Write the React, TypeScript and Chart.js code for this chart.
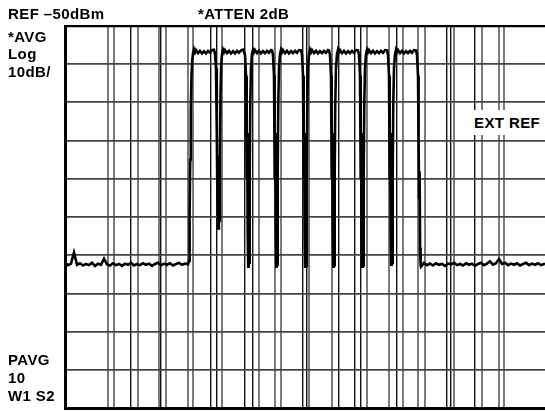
import React, { useEffect, useRef } from "react";
import { Chart, registerables } from "chart.js";

Chart.register(...registerables);

// ---- data (x in display trace units 0..480, y in dBm) ----
const X_MIN = 0;
const X_MAX = 480;
const REF_DBM = -50;
const BOTTOM_DBM = -150;
const DB_PER_DIV = 10;

const FLOOR_LEFT_START = 0;
const FLOOR_STEP = 3;
const FLOOR_LEFT_DB = [
  -112.0, -112.6, -112.2, -109.3, -112.5, -112.1, -112.7, -112.3, -112.6, -112.0,
  -112.8, -112.2, -112.5, -110.9, -112.4, -112.7, -112.1, -112.6, -112.3, -112.8,
  -112.2, -112.5, -112.0, -112.7, -112.3, -112.6, -112.1, -112.5, -112.2, -112.8,
  -112.3, -112.0, -112.6, -112.2, -112.5, -112.1, -112.7, -112.3, -112.0, -112.5,
  -112.2, -112.4,
];

// [x, dBm] pairs for the eight-carrier burst region
const BURST_POINTS: [number, number][] = [
  [124, -111.5], [124.6, -100], [125.2, -85], [125.8, -72], [126.5, -63], [127.2, -59], [128, -57.2],
  [129, -56.1], [130, -56.9], [131, -56.3], [133, -57.1], [135, -56.5], [137, -57.2], [139, -56.6], [141, -57.2], [143, -56.5], [145, -57.0], [147, -56.3], [149, -56.2], [150, -57.3],
  [151, -61], [151.8, -78], [152.4, -96], [152.9, -84], [153.4, -103], [153.9, -92], [154.4, -101], [154.9, -82], [155.5, -68], [156.2, -60], [157, -57.4],
  [158, -56.2], [159, -56.9], [160, -56.3], [162, -57.1], [164, -56.5], [166, -57.2], [168, -56.6], [170, -57.2], [172, -56.5], [174, -57.0], [176, -56.4], [178, -56.2], [179, -56.7], [180, -57.6],
  [181, -63], [181.7, -90], [182.2, -78], [182.7, -104], [183.2, -113], [183.7, -97], [184.2, -112], [184.7, -88], [185.3, -70], [186, -61], [187, -57.3],
  [188, -56.2], [189, -56.9], [190, -56.3], [192, -57.1], [194, -56.5], [196, -57.2], [198, -56.6], [200, -57.1], [202, -56.5], [204, -57.0], [206, -56.3], [207, -56.4], [208, -57.6],
  [209, -63], [209.7, -90], [210.2, -78], [210.7, -104], [211.2, -113], [211.7, -97], [212.2, -112.5], [212.7, -88], [213.3, -70], [214, -61], [215, -57.3],
  [216, -56.2], [217, -56.9], [218, -56.3], [220, -57.1], [222, -56.5], [224, -57.2], [226, -56.6], [228, -57.1], [230, -56.5], [232, -57.0], [234, -56.3], [236, -56.4], [237, -57.5],
  [238, -63], [238.7, -90], [239.2, -78], [239.7, -104], [240.2, -113], [240.7, -97], [241.2, -112.8], [241.7, -88], [242.3, -70], [243, -61], [244, -57.3],
  [245, -56.2], [246, -56.9], [247, -56.3], [249, -57.1], [251, -56.5], [253, -57.2], [255, -56.6], [257, -57.1], [259, -56.5], [261, -57.0], [263, -56.3], [264, -56.4], [265, -57.6],
  [266, -63], [266.7, -90], [267.2, -78], [267.7, -104], [268.2, -113], [268.7, -97], [269.2, -112.6], [269.7, -88], [270.3, -70], [271, -61], [272, -57.3],
  [273, -56.2], [274, -56.9], [275, -56.3], [277, -57.1], [279, -56.5], [281, -57.2], [283, -56.6], [285, -57.1], [287, -56.5], [289, -57.0], [291, -56.3], [293, -56.4], [294, -57.5],
  [295, -63], [295.7, -90], [296.2, -78], [296.7, -104], [297.2, -113], [297.7, -97], [298.2, -112.7], [298.7, -88], [299.3, -70], [300, -61], [301, -57.3],
  [302, -56.2], [303, -56.9], [304, -56.3], [306, -57.1], [308, -56.5], [310, -57.2], [312, -56.6], [314, -57.1], [316, -56.5], [318, -57.0], [320, -56.3], [322, -56.4], [323, -57.5],
  [324, -63], [324.7, -90], [325.2, -78], [325.7, -104], [326.2, -112.5], [326.7, -97], [327.2, -112], [327.7, -88], [328.3, -70], [329, -61], [330, -57.3],
  [331, -56.2], [332, -56.9], [333, -56.3], [335, -57.1], [337, -56.5], [339, -57.2], [341, -56.6], [343, -57.1], [345, -56.5], [347, -57.0], [349, -56.3], [351, -56.4], [352, -57.6],
  [353, -63], [353.6, -80], [354.1, -95], [354.6, -88], [355.1, -108], [355.6, -112.5],
];

const FLOOR_RIGHT_START = 356;
const FLOOR_RIGHT_DB = [
  -113.0, -112.0, -112.6, -112.2, -112.7, -112.1, -112.5, -112.3, -112.8, -112.2,
  -112.4, -112.0, -112.6, -112.3, -112.7, -112.1, -112.5, -112.2, -112.8, -112.3,
  -112.0, -112.6, -112.2, -111.6, -112.5, -112.1, -111.0, -112.3, -112.0, -112.6,
  -112.2, -112.5, -112.1, -112.7, -112.3, -112.0, -112.6, -112.2, -112.5, -112.1,
  -112.6, -112.3, -112.4,
];

// vertical graticule/marker lines (x units) and which of them are the dark ones
const GRID_X = [
  42.7, 48.7, 65.3, 72.7, 93.7, 96, 100.7, 122.7, 127.7, 145.7, 151.7, 157.3,
  179.7, 187.3, 193.7, 209.5, 215.7, 237.3, 241.3, 244.3, 267, 273.3, 289.3,
  295.3, 302.3, 324.3, 331.7, 337.7, 353.3, 360, 381.7, 385.3, 388.7, 409.7,
  416.7, 434, 438.7,
];
const GRID_X_DARK = [65.3, 96, 145.7, 151.7, 179.7, 187.3, 237.3, 241.3, 273.3, 289.3, 295.3, 331.7, 381.7, 385.3, 409.7];

const HEADER_LEFT = "REF \u201350dBm";
const HEADER_MID = "*ATTEN 2dB";
const SIDE_TOP = ["*AVG", "Log", "10dB/"];
const SIDE_BOTTOM = ["PAVG", "10", "W1 S2"];
const EXT_LABEL = "EXT REF";

function buildTrace() {
  const pts: { x: number; y: number }[] = [];
  FLOOR_LEFT_DB.forEach((v, i) => pts.push({ x: FLOOR_LEFT_START + i * FLOOR_STEP, y: v }));
  BURST_POINTS.forEach(([x, y]) => pts.push({ x, y }));
  FLOOR_RIGHT_DB.forEach((v, i) =>
    pts.push({ x: Math.min(X_MAX, FLOOR_RIGHT_START + i * FLOOR_STEP), y: v })
  );
  return pts;
}

const font = "'Liberation Sans', Arial, Helvetica, sans-serif";
const textStyle: React.CSSProperties = {
  position: "absolute",
  fontFamily: font,
  fontWeight: 700,
  fontSize: 15,
  letterSpacing: 0.4,
  color: "#000",
  whiteSpace: "pre",
  margin: 0,
};

export default function App() {
  const ref = useRef<HTMLCanvasElement | null>(null);

  useEffect(() => {
    if (!ref.current) return;
    const chart = new Chart(ref.current, {
      type: "line",
      data: {
        datasets: [
          {
            data: buildTrace(),
            borderColor: "#000",
            borderWidth: 2.6,
            pointRadius: 0,
            tension: 0,
            fill: false,
          },
        ],
      },
      options: {
        animation: false,
        responsive: false,
        devicePixelRatio: 1,
        parsing: false,
        layout: { padding: { left: 65, top: 26, right: 0, bottom: 4 } },
        plugins: { legend: { display: false }, tooltip: { enabled: false } },
        scales: {
          x: {
            type: "linear",
            min: X_MIN,
            max: X_MAX,
            afterBuildTicks: (scale: any) => {
              scale.ticks = GRID_X.map((v) => ({ value: v }));
            },
            afterFit: (scale: any) => {
              scale.height = 0;
            },
            ticks: { display: false },
            grid: {
              drawTicks: false,
              color: (c: any) => (GRID_X_DARK.includes(c.tick?.value) ? "#111" : "#7a7a7a"),
              lineWidth: (c: any) => (GRID_X_DARK.includes(c.tick?.value) ? 1.4 : 2),
            },
            border: { display: true, color: "#000", width: 3 },
          },
          y: {
            type: "linear",
            min: BOTTOM_DBM,
            max: REF_DBM,
            afterFit: (scale: any) => {
              scale.width = 0;
            },
            ticks: { display: false, stepSize: DB_PER_DIV },
            grid: {
              drawTicks: false,
              color: (c: any) => (c.tick?.value === REF_DBM ? "#000" : "#444"),
              lineWidth: (c: any) => (c.tick?.value === REF_DBM ? 2.2 : 1.8),
            },
            border: { display: true, color: "#000", width: 3 },
          },
        },
      },
    });
    return () => chart.destroy();
  }, []);

  return (
    <div style={{ position: "fixed", left: 0, top: 0, width: 545, height: 412, background: "#fff", overflow: "hidden" }}>
      <canvas ref={ref} width={545} height={412} style={{ position: "absolute", left: 0, top: 0, width: 545, height: 412 }} />
      <div style={{ ...textStyle, left: 8, top: 5.3, lineHeight: "17px" }}>{HEADER_LEFT}</div>
      <div style={{ ...textStyle, left: 198, top: 5.3, lineHeight: "17px" }}>{HEADER_MID}</div>
      <div style={{ ...textStyle, left: 8, top: 27.8, lineHeight: "17.5px" }}>
        {SIDE_TOP.map((s) => (
          <div key={s}>{s}</div>
        ))}
      </div>
      <div style={{ ...textStyle, left: 8, top: 350.8, lineHeight: "18px" }}>
        {SIDE_BOTTOM.map((s) => (
          <div key={s}>{s}</div>
        ))}
      </div>
      <div
        style={{
          ...textStyle,
          left: 470,
          top: 110,
          width: 75,
          height: 25,
          lineHeight: "25px",
          paddingLeft: 4,
          boxSizing: "border-box",
          background: "#fff",
        }}
      >
        {EXT_LABEL}
      </div>
    </div>
  );
}
